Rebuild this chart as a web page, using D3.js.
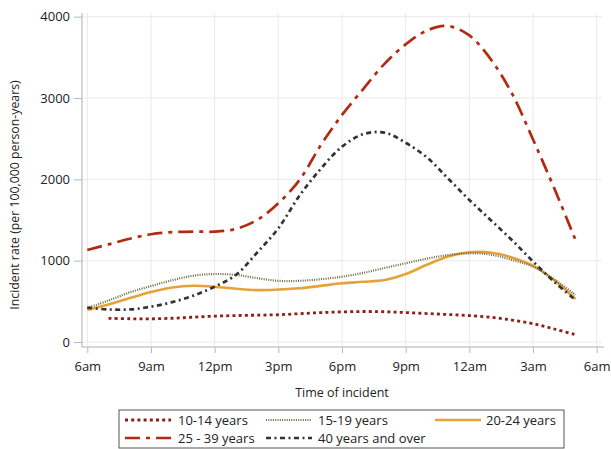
<!DOCTYPE html>
<html><head><meta charset="utf-8">
<script src="https://cdn.jsdelivr.net/npm/d3@7/dist/d3.min.js"></script>
<style>body{margin:0;background:#fff;} svg{display:block;font-family:"Open Sans","Noto Sans",sans-serif;}</style>
</head><body><svg id="c" width="611" height="449"></svg>
<script>
const xTickHours = [6, 9, 12, 15, 18, 21, 24, 27, 30];
const xTickLabels = ["6am", "9am", "12pm", "3pm", "6pm", "9pm", "12am", "3am", "6am"];
const yTicks = [0, 1000, 2000, 3000, 4000];

const seriesNames = ["10-14 years", "15-19 years", "20-24 years", "25 - 39 years", "40 years and over"];

// hours since midnight of the first day (6 = 6am, 24 = 12am, 29 = 5am)
const hours10_14 = [7, 8, 9, 10, 11, 12, 13, 14, 15, 16, 17, 18, 19, 20, 21, 22, 23, 24, 25, 26, 27, 28, 29];
const values10_14 = [291, 286, 285, 292, 305, 318, 325, 330, 335, 348, 362, 370, 375, 372, 362, 350, 338, 325, 305, 270, 225, 160, 90];

const hoursAll = [6, 7, 8, 9, 10, 11, 12, 13, 14, 15, 16, 17, 18, 19, 20, 21, 22, 23, 24, 25, 26, 27, 28, 29];
const values15_19 = [418, 510, 610, 688, 760, 815, 836, 825, 785, 752, 752, 772, 803, 850, 910, 968, 1025, 1070, 1091, 1075, 1010, 926, 770, 578];
const values20_24 = [394, 460, 540, 615, 670, 692, 680, 655, 638, 645, 660, 690, 722, 740, 762, 836, 950, 1050, 1103, 1100, 1040, 939, 760, 529];
const values25_39 = [1132, 1200, 1270, 1325, 1350, 1358, 1357, 1390, 1500, 1706, 1993, 2420, 2792, 3110, 3420, 3660, 3830, 3885, 3770, 3480, 3060, 2490, 1890, 1255];
const values40 = [422, 400, 400, 434, 490, 570, 680, 824, 1100, 1398, 1800, 2130, 2402, 2555, 2575, 2450, 2270, 2010, 1747, 1501, 1255, 990, 740, 517];

const svg = d3.select("#c");
const x = d3.scaleLinear().domain([6, 30]).range([87.3, 596.7]);
const y = d3.scaleLinear().domain([0, 4000]).range([342, 16.7]);

// grid
const g = svg.append("g");
g.selectAll(".hg").data(yTicks).enter().append("line")
  .attr("x1", 82).attr("x2", 602).attr("y1", d => y(d)).attr("y2", d => y(d))
  .attr("stroke", "#e9e9e9").attr("stroke-width", 1);
g.selectAll(".vg").data(xTickHours).enter().append("line")
  .attr("y1", 13).attr("y2", 346).attr("x1", d => x(d)).attr("x2", d => x(d))
  .attr("stroke", "#e9e9e9").attr("stroke-width", 1);

// axes
const yAxis = d3.axisLeft(y).tickValues(yTicks).tickSize(8).tickPadding(4).tickFormat(d3.format("d"));
const yg = svg.append("g").attr("transform", "translate(82,0)").call(yAxis);
yg.select(".domain").attr("d", "M0,13V347").attr("stroke", "#c8c8c8").attr("stroke-width", 1.5);
yg.selectAll(".tick line").attr("stroke", "#b8b8b8");
yg.selectAll(".tick text").attr("font-size", 13).attr("fill", "#222").attr("font-family", "Open Sans, Noto Sans, sans-serif");

const xAxis = d3.axisBottom(x).tickValues(xTickHours).tickSize(6).tickPadding(9).tickFormat((d, i) => xTickLabels[i]);
const xg = svg.append("g").attr("transform", "translate(0,347)").call(xAxis);
xg.select(".domain").attr("d", "M82,0H604").attr("stroke", "#c8c8c8").attr("stroke-width", 1.5);
xg.selectAll(".tick line").attr("stroke", "#b8b8b8");
xg.selectAll(".tick text").attr("font-size", 13).attr("fill", "#222").attr("font-family", "Open Sans, Noto Sans, sans-serif");

svg.append("text").attr("x", 342).attr("y", 397).attr("text-anchor", "middle")
  .attr("font-size", 12.5).attr("fill", "#222").text("Time of incident");
svg.append("text").attr("transform", "translate(19,195) rotate(-90)").attr("text-anchor", "middle")
  .attr("font-size", 12.3).attr("fill", "#222").text("Incident rate (per 100,000 person-years)");

const styles = [
  {color: "#8e1f16", width: 2.8, dash: "3,3.2"},
  {color: "#6a6a3e", width: 2.2, dash: "1,1.3"},
  {color: "#e6a236", width: 2.6, dash: null},
  {color: "#b12b10", width: 2.7, dash: "15,6,4,6"},
  {color: "#333333", width: 2.7, dash: "5,3.5,2,3.5"}
];
const allHours = [hours10_14, hoursAll, hoursAll, hoursAll, hoursAll];
const allValues = [values10_14, values15_19, values20_24, values25_39, values40];

const line = d3.line().x(d => x(d[0])).y(d => y(d[1])).curve(d3.curveCatmullRom.alpha(0.5));
const order = [0, 2, 1, 3, 4];
order.forEach(i => {
  const pts = allHours[i].map((h, k) => [h, allValues[i][k]]);
  const p = svg.append("path").attr("d", line(pts)).attr("fill", "none")
    .attr("stroke", styles[i].color).attr("stroke-width", styles[i].width);
  if (styles[i].dash) p.attr("stroke-dasharray", styles[i].dash);
});

// legend
const lg = svg.append("g");
lg.append("rect").attr("x", 119).attr("y", 410).attr("width", 445).attr("height", 38)
  .attr("fill", "#fff").attr("stroke", "#555").attr("stroke-width", 1);
const legPos = [
  {sx: 125, tx: 178, y: 420},
  {sx: 266, tx: 318, y: 420},
  {sx: 435, tx: 486, y: 420},
  {sx: 125, tx: 178, y: 438},
  {sx: 266, tx: 318, y: 438}
];
seriesNames.forEach((name, i) => {
  const p = legPos[i];
  const l = lg.append("line").attr("x1", p.sx).attr("x2", p.sx + 46).attr("y1", p.y).attr("y2", p.y)
    .attr("stroke", styles[i].color).attr("stroke-width", styles[i].width);
  if (styles[i].dash) l.attr("stroke-dasharray", styles[i].dash);
  lg.append("text").attr("x", p.tx).attr("y", p.y).attr("dy", "0.35em")
    .attr("font-size", 13).attr("fill", "#222").text(name);
});
</script></body></html>
